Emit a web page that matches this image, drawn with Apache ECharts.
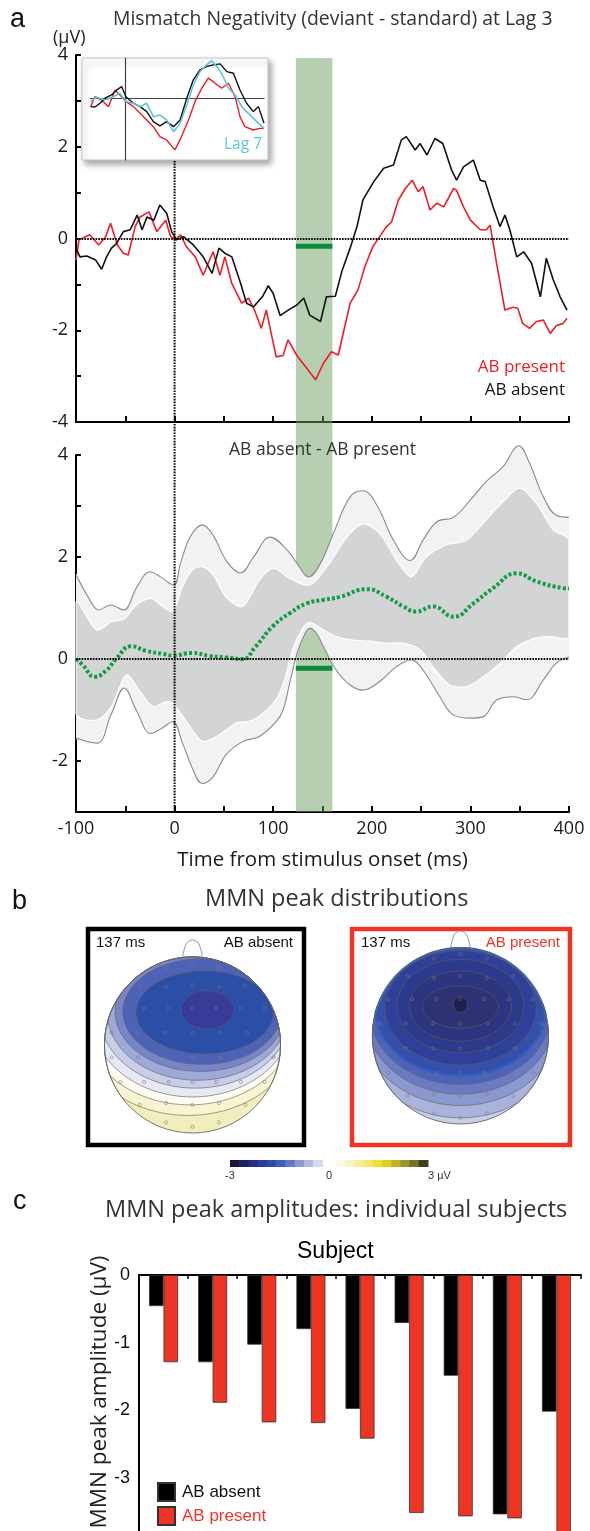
<!DOCTYPE html>
<html><head><meta charset="utf-8">
<script src="https://cdn.jsdelivr.net/npm/echarts@6/dist/echarts.min.js"></script>
<style>html,body{margin:0;padding:0;background:#fff}#c{width:590px;height:1531px}</style>
</head><body><div id="c"></div>
<script>
// ---------------- DATA ----------------
// Panel a (top): grand-average MMN waveforms, [ms, µV]
const absentWave = [[-100,-0.21],[-96,-0.40],[-89,-0.38],[-80,-0.47],[-74,-0.67],[-69,-0.40],[-64,-0.21],[-59,-0.11],[-52,0.15],[-45,0.19],[-38,0.51],[-33,0.19],[-28,0.47],[-21,0.40],[-15,0.73],[-8,0.55],[-3,0.15],[2,-0.03],[9,0.04],[19,-0.14],[29,-0.40],[38,-0.76],[45,-0.21],[51,-0.32],[58,-0.40],[67,-0.98],[73,-1.41],[80,-1.49],[89,-1.27],[95,-1.03],[100,-1.20],[107,-1.68],[116,-1.55],[124,-1.45],[131,-1.30],[137,-1.67],[148,-1.81],[154,-1.27],[163,-1.26],[170,-0.69],[178,-0.21],[185,0.26],[191,0.84],[202,1.24],[212,1.53],[222,1.60],[230,2.15],[235,2.22],[244,1.93],[249,2.07],[256,1.82],[264,2.18],[272,2.07],[281,1.49],[286,1.27],[293,1.56],[303,1.71],[310,1.27],[315,1.24],[323,0.69],[330,0.26],[335,0.51],[340,0.19],[347,-0.40],[354,-0.29],[362,-0.54],[371,-1.27],[377,-0.43],[384,-0.90],[391,-1.27],[398,-1.56]];
const presentWave = [[-100,-0.47],[-97,-0.03],[-86,0.08],[-77,-0.14],[-70,0.04],[-65,0.33],[-58,-0.14],[-52,-0.32],[-47,-0.36],[-40,0.26],[-35,0.47],[-26,0.58],[-18,0.15],[-9,0.40],[-4,0.04],[1,-0.03],[6,0.08],[12,-0.18],[21,-0.40],[29,-0.80],[39,-0.29],[46,-0.80],[51,-0.40],[58,-0.98],[68,-1.41],[75,-1.30],[81,-1.56],[88,-1.96],[93,-1.56],[103,-2.58],[110,-2.55],[115,-2.21],[124,-2.55],[134,-2.83],[143,-3.08],[151,-2.72],[159,-2.47],[166,-2.54],[171,-2.07],[178,-1.41],[186,-1.12],[193,-0.61],[201,-0.18],[208,0.04],[215,0.26],[220,0.36],[227,0.84],[234,1.09],[241,1.27],[247,1.02],[252,1.13],[259,0.62],[266,0.77],[273,0.69],[283,1.09],[286,1.05],[293,0.69],[300,0.40],[310,0.19],[316,0.19],[320,0.29],[326,-0.47],[335,-1.56],[343,-1.50],[348,-1.52],[353,-1.85],[360,-1.96],[367,-1.81],[374,-1.78],[381,-2.07],[387,-1.90],[394,-1.85],[398,-1.74]];
// Inset (Lag 7)
const insetAbsent = [[-98,-0.57],[-86,-0.6],[-71,-0.33],[-57,0.03],[-38,0.26],[-23,0.62],[-9,0.86],[3,0.14],[25,-0.33],[44,-0.57],[63,-0.93],[82,-1.64],[101,-1.95],[120,-1.64],[140,-2.0],[159,-1.52],[178,0.03],[197,1.34],[216,2.05],[235,2.29],[254,2.41],[274,2.48],[293,1.93],[312,1.81],[331,0.62],[350,-0.33],[369,-0.93],[384,-0.57],[400,-1.76]];
const insetPresent = [[-98,-0.57],[-86,0.14],[-67,-0.1],[-47,-0.57],[-28,0.62],[-14,0.26],[3,-0.2],[25,-0.57],[44,-1.05],[63,-1.52],[82,-2.0],[101,-2.71],[120,-2.95],[144,-3.66],[163,-2.71],[183,-1.52],[202,-0.2],[221,0.74],[240,1.46],[254,1.21],[278,0.74],[298,1.1],[317,0.14],[331,-1.29],[345,-2.0],[369,-2.24],[388,-2.12],[400,-2.12]];
const insetLag7 = [[-98,-0.2],[-81,0.1],[-57,-0.1],[-33,0.14],[-14,0.38],[3,-0.2],[25,-0.33],[44,-0.57],[63,-0.33],[82,-1.29],[101,-1.17],[120,-1.52],[140,-2.36],[159,-1.76],[178,-0.45],[197,0.98],[216,1.93],[235,2.41],[250,2.71],[264,2.29],[278,1.81],[298,0.74],[317,0.26],[336,-0.57],[355,-1.05],[374,-1.52],[400,-2.12]];
// Panel a (bottom): difference wave with confidence bands
const diffMean = [[-100,0.0],[-93,-0.12],[-81,-0.35],[-69,-0.22],[-59,0.01],[-44,0.25],[-29,0.16],[-12,0.1],[-2,0.07],[18,0.12],[35,0.06],[52,0.03],[69,0.0],[82,0.24],[99,0.63],[117,0.9],[134,1.09],[151,1.16],[168,1.22],[195,1.37],[215,1.22],[232,1.03],[245,0.93],[262,1.03],[283,0.83],[303,1.09],[323,1.39],[347,1.68],[367,1.52],[394,1.39],[400,1.38]];
const innerUpper = [[-100,1.12],[-79,0.57],[-64,0.73],[-51,0.79],[-39,1.06],[-24,1.19],[-14,1.06],[-2,0.93],[8,1.42],[18,1.75],[28,1.81],[39,1.65],[52,1.22],[69,1.03],[86,1.55],[100,1.78],[117,1.58],[137,1.45],[157,1.88],[175,2.4],[191,2.65],[208,2.46],[225,1.94],[240,1.61],[255,2.0],[276,2.24],[296,2.33],[316,2.73],[333,3.08],[350,3.35],[367,3.05],[384,2.53],[400,2.33]];
const innerLower = [[-100,-1.07],[-79,-1.2],[-64,-0.93],[-49,-0.31],[-36,-0.61],[-22,-0.93],[-9,-0.84],[-2,-0.87],[11,-1.2],[24,-1.55],[31,-1.62],[45,-1.49],[62,-1.26],[79,-1.2],[100,-0.87],[110,-0.5],[120,0.2],[130,0.6],[137,0.72],[151,0.57],[164,0.44],[181,0.37],[198,0.35],[215,0.31],[232,0.31],[249,0.18],[262,-0.15],[279,-0.51],[296,-0.54],[313,-0.35],[330,-0.08],[347,0.24],[364,0.4],[381,0.44],[400,0.44]];
const outerUpper = [[-100,1.65],[-86,1.16],[-77,0.96],[-65,1.06],[-52,0.96],[-38,1.42],[-25,1.71],[-15,1.62],[-1,1.45],[6,1.88],[16,2.4],[28,2.63],[39,2.43],[53,1.91],[67,1.69],[80,2.0],[97,2.39],[114,2.14],[124,1.88],[136,1.61],[148,1.88],[161,2.46],[178,3.18],[191,3.3],[205,3.02],[222,2.33],[239,1.93],[252,2.33],[266,2.69],[283,2.78],[300,3.12],[316,3.48],[333,3.77],[349,4.18],[360,3.84],[374,3.18],[387,2.82],[400,2.78]];
const outerLower = [[-100,-1.55],[-79,-1.65],[-64,-1.07],[-51,-0.57],[-39,-1.0],[-24,-1.46],[-14,-1.37],[-2,-1.23],[8,-1.65],[18,-2.14],[28,-2.44],[39,-2.31],[52,-1.88],[69,-1.62],[86,-1.52],[103,-1.23],[110,-1.0],[117,-0.45],[124,0.1],[130,0.4],[137,0.6],[144,0.5],[151,0.24],[164,-0.22],[178,-0.51],[191,-0.61],[208,-0.44],[225,-0.15],[240,-0.02],[252,-0.22],[269,-0.74],[283,-1.1],[300,-1.16],[313,-1.13],[327,-0.8],[344,-0.74],[357,-0.8],[374,-0.41],[387,-0.08],[400,0.04]];
const mmnWindow = [123, 160];      // ms, shaded analysis window
const sigMarkTop = -0.17;          // µV level of significance bar (top)
const sigMarkBottom = -0.18;       // µV level of significance bar (bottom)

// Panel b: scalp maps at 137 ms — contour levels (µV) and contour ellipses in head units [cx, cy, rx, ry]
const absentLevels = [0.6, 0.4, 0.2, -0.2, -0.6, -1.0, -1.4, -1.8, -2.2, -2.6];
const absentContours = [[0,0,1,1],[-0.05,0.28,1.3,1.08],[-0.03,0.32,1.22,1.0],[0,0.34,1.15,0.93],[0.03,0.36,1.09,0.85],[0.06,0.37,1.03,0.77],[0.09,0.38,0.97,0.68],[0.11,0.38,0.9,0.6],[0.14,0.37,0.78,0.47],[0.17,0.4,0.3,0.22]];
const presentLevels = [-0.6, -0.9, -1.2, -1.5, -1.8, -2.1, -2.3, -2.5, -2.7, -2.9, -3.1];
const presentContours = [[0,0,1,1],[0,0.12,1.2,1.05],[0,0.18,1.14,0.97],[0,0.23,1.08,0.89],[0,0.27,1.03,0.82],[0,0.3,0.97,0.75],[0,0.32,0.86,0.65],[0,0.34,0.72,0.53],[0,0.34,0.58,0.4],[0,0.33,0.43,0.24],[0,0.36,0.08,0.09]];
const electrodes = [[-0.3,0.88],[0,0.93],[0.3,0.88],[-0.6,0.68],[-0.3,0.66],[0,0.68],[0.3,0.66],[0.6,0.68],[-0.82,0.42],[-0.55,0.42],[-0.27,0.42],[0,0.42],[0.27,0.42],[0.55,0.42],[0.82,0.42],[-0.92,0.14],[-0.62,0.14],[-0.31,0.14],[0,0.14],[0.31,0.14],[0.62,0.14],[0.92,0.14],[-0.92,-0.14],[-0.62,-0.14],[-0.31,-0.14],[0,-0.14],[0.31,-0.14],[0.62,-0.14],[0.92,-0.14],[-0.82,-0.42],[-0.55,-0.42],[-0.27,-0.42],[0,-0.42],[0.27,-0.42],[0.55,-0.42],[0.82,-0.42],[-0.6,-0.68],[-0.3,-0.66],[0,-0.68],[0.3,-0.66],[0.6,-0.68],[-0.3,-0.88],[0,-0.93],[0.3,-0.88]];
const noseOutline = [[-0.11,0.99],[-0.09,1.1],[-0.04,1.18],[0.04,1.18],[0.09,1.1],[0.11,0.99]];
// colour scale steps (µV)
const cbStarts = [-3,-2.72,-2.44,-2.16,-1.88,-1.6,-1.32,-1.04,-0.76,-0.48, 0.2,0.48,0.76,1.04,1.32,1.6,1.88,2.16,2.44,2.72];
const cbEnds   = [-2.72,-2.44,-2.16,-1.88,-1.6,-1.32,-1.04,-0.76,-0.48,-0.2, 0.48,0.76,1.04,1.32,1.6,1.88,2.16,2.44,2.72,3];
const cbTicks = [-3, 0, 3];

// Panel c: individual subject MMN peak amplitudes (µV)
const subjects = ['1','2','3','4','5','6','7','8','9'];
const absentAmp  = [-0.46,-1.29,-1.03,-0.80,-1.98,-0.71,-1.49,-3.54,-2.02];
const presentAmp = [-1.29,-1.89,-2.18,-2.19,-2.42,-3.52,-3.57,-3.60,-3.95];

// ---------------- STYLE ----------------
const FA = '"Open Sans","Noto Sans",sans-serif';
const FH = '"Liberation Sans",Arial,sans-serif';
const cbColors = ['#15153f','#1e2060','#252f80','#2a3d98','#2d4ea8','#3f60b4','#6577c0','#8d99cf','#b2bade','#d5d9ee',
                  '#fbfae8','#f7f4c4','#f4ee9c','#f2e870','#efe036','#e0d21c','#bfb523','#9a942a','#74722b','#3f3f1f'];
const topoPalette = [[-3.1,'#1f1e4e'],[-2.9,'#2e3274'],[-2.7,'#2d357f'],[-2.6,'#383c98'],[-2.5,'#2d398b'],[-2.3,'#2f4099'],[-2.2,'#2b4ea6'],[-2.1,'#3550aa'],[-1.8,'#4f63b6'],[-1.5,'#6b7bc3'],[-1.4,'#7785c7'],[-1.2,'#8b97cf'],[-1.0,'#9fa9d8'],[-0.9,'#aab3dc'],[-0.6,'#c8cde8'],[-0.2,'#e6e8f4'],[0.2,'#fdfcf1'],[0.4,'#f7f4d2'],[0.6,'#f1edbc']];
function topoColor(v){let best=topoPalette[0];for(const p of topoPalette){if(Math.abs(p[0]-v)<Math.abs(best[0]-v))best=p;}return best[1];}

const RED = '#ee1c24', BARRED = '#ee3524', GREEN = '#0b8b3c';
const dotted = {type:[1.6,1.2], width:2, color:'#000'};

function hidden(gi, min, max){ return {gridIndex:gi, type:'value', min, max, show:false, splitLine:{show:false}}; }

function bandPoly(upper, lower, fill, stroke, lw, z){
  return {type:'custom', name:'band', xAxisIndex:1, yAxisIndex:1, z, silent:true, clip:false,
    data:[[0,0]],
    renderItem(params, api){
      const pts = upper.map(p=>api.coord(p)).concat(lower.slice().reverse().map(p=>api.coord(p)));
      const l = api.coord([-100,0])[0], r = api.coord([400,0])[0];
      return {type:'polygon', shape:{points:pts, smooth:0.3, smoothConstraint:[[l,-1e5],[r,1e5]]}, style:{fill, stroke, lineWidth:lw}};
    }};
}
function topoSeries(gi, levels, shapes, special){
  return {type:'custom', name:'topo', xAxisIndex:gi, yAxisIndex:gi, z:3, silent:true,
    data: levels.map(v=>[0,0,v]),
    renderItem(params, api){
      const i = params.dataIndex, s = shapes[i];
      const pts=[];
      for(let k=0;k<120;k++){
        const t=k/120*2*Math.PI; let x=s[0]+s[2]*Math.cos(t), y=s[1]+s[3]*Math.sin(t);
        const r=Math.hypot(x,y); if(r>1){x/=r;y/=r;}
        pts.push(api.coord([x,y]));
      }
      const sp = special && special[i];
      return {type:'polygon', shape:{points:pts}, style:{fill:topoColor(levels[i]), stroke: sp? sp[0] : '#5e5e5e', lineWidth: i===0?0:(sp? sp[1]:0.6)}};
    }};
}
function headOutline(gi){
  return {type:'custom', name:'head', xAxisIndex:gi, yAxisIndex:gi, z:4, silent:true, data:[[0,0]],
    renderItem(params, api){
      const c = api.coord([0,0]), r = api.size([1,1])[0];
      return {type:'circle', shape:{cx:c[0], cy:c[1], r}, style:{fill:null, stroke:'#666', lineWidth:0.9}};
    }};
}
function noseSeries(gi){
  return {type:'custom', name:'nose', xAxisIndex:gi, yAxisIndex:gi, z:2, silent:true, data:[[0,0]],
    renderItem(params, api){
      return {type:'polyline', shape:{points:noseOutline.map(p=>api.coord(p)), smooth:0.5}, style:{fill:'#fff', stroke:'#888', lineWidth:0.9}};
    }};
}
function electrodeSeries(gi){
  return {type:'scatter', name:'elec', xAxisIndex:gi, yAxisIndex:gi, z:5, silent:true, symbol:'circle', symbolSize:3.2,
    itemStyle:{color:'rgba(0,0,0,0)', borderColor:'#7a7a7a', borderWidth:0.7}, data:electrodes};
}

const T = (text, pos, style) => Object.assign({text, padding:0, textStyle:Object.assign({fontWeight:'normal'}, style)}, pos);

const option = {
  animation:false,
  backgroundColor:'#fff',
  title:[
    T('a', {left:10, top:6}, {fontFamily:FH, fontSize:27, color:'#111'}),
    T('Mismatch Negativity (deviant - standard) at Lag 3', {left:113, top:10}, {fontFamily:FA, fontSize:19.4, color:'#333'}),
    T('(µV)', {left:53, top:29}, {fontFamily:FA, fontSize:18, color:'#222'}),
    T('AB present', {right:25, top:359}, {fontFamily:FA, fontSize:17, color:RED}),
    T('AB absent', {right:25, top:382}, {fontFamily:FA, fontSize:17, color:'#111'}),
    Object.assign(T('Lag 7', {right:328, top:137}, {fontFamily:FA, fontSize:15.5, color:'#5ec5d8'}), {z:20}),
    T('AB absent - AB present', {left:229, top:441}, {fontFamily:FA, fontSize:17.5, color:'#333'}),
    T('b', {left:12, top:888}, {fontFamily:FH, fontSize:27, color:'#111'}),
    T('MMN peak distributions', {left:205, top:887}, {fontFamily:FA, fontSize:23.5, color:'#333'}),
    Object.assign(T('137 ms', {left:96, top:935}, {fontFamily:FH, fontSize:15, color:'#111'}), {z:20}),
    Object.assign(T('AB absent', {right:297, top:935}, {fontFamily:FH, fontSize:15, color:'#111'}), {z:20}),
    Object.assign(T('137 ms', {left:361, top:935}, {fontFamily:FH, fontSize:15, color:'#111'}), {z:20}),
    Object.assign(T('AB present', {right:30, top:935}, {fontFamily:FH, fontSize:15, color:BARRED}), {z:20}),
    T('c', {left:13, top:1188}, {fontFamily:FH, fontSize:27, color:'#111'}),
    T('MMN peak amplitudes: individual subjects', {left:105, top:1198}, {fontFamily:FA, fontSize:23.5, color:'#333'}),
    T('Subject', {left:297, top:1240}, {fontFamily:FH, fontSize:23, color:'#000'})
  ],
  graphic:[{type:'text', x:100, y:1392, rotation:Math.PI/2, silent:true,
    style:{text:'MMN peak amplitude (µV)', font:'22.5px "Open Sans"', fill:'#222', align:'center', verticalAlign:'middle'}}],
  legend:{left:152, top:1477, orient:'vertical', itemWidth:17, itemHeight:18, itemGap:4, icon:'rect', selectedMode:false,
    textStyle:{fontFamily:FH, fontSize:17, padding:[0,0,0,2]},
    data:[{name:'AB absent', textStyle:{color:'#111'}},{name:'AB present', textStyle:{color:BARRED}}]},
  grid:[
    {left:76, top:55, width:493, height:367},                       // 0 top waveform
    {left:76, top:455, width:493, height:357},                      // 1 difference
    {left:76, top:58, width:493, height:754},                       // 2 overlay
    {left:82, top:58, width:186, height:102, show:true, z:10, backgroundColor:'#fff', borderColor:'#c4c4c4', borderWidth:1,
      shadowBlur:6, shadowColor:'rgba(0,0,0,0.35)', shadowOffsetX:3, shadowOffsetY:4}, // 3 inset box
    {left:90, top:58, width:174, height:102, z:11},                 // 4 inset data
    {left:88, top:929, width:216, height:216, show:true, z:1, backgroundColor:'#fff', borderColor:'#000', borderWidth:4.5}, // 5
    {left:352, top:929, width:218, height:216, show:true, z:1, backgroundColor:'#fff', borderColor:BARRED, borderWidth:4.5}, // 6
    {left:230, top:1160, width:198, height:7},                      // 7 colour bar
    {left:139, top:1275, width:442, height:270.4, outerBoundsMode:'none'}   // 8 bars (runs off the page bottom)
  ],
  xAxis:[
    {gridIndex:0, type:'value', min:-100, max:400, interval:50,
      axisLine:{show:true, onZero:false, lineStyle:{color:'#000', width:2}},
      axisTick:{show:true, inside:true, length:6, lineStyle:{color:'#000', width:2}},
      axisLabel:{show:false}, splitLine:{show:false}},
    {gridIndex:1, type:'value', min:-100, max:400, interval:50,
      axisLine:{show:true, onZero:false, lineStyle:{color:'#000', width:2}},
      axisTick:{show:true, inside:true, length:6, lineStyle:{color:'#000', width:2}},
      axisLabel:{show:true, margin:8, fontFamily:FA, fontSize:18, color:'#1a1a1a', formatter:v=> (v%100===0? String(v):'')},
      splitLine:{show:false},
      name:'Time from stimulus onset (ms)', nameLocation:'middle', nameGap:38,
      nameTextStyle:{fontFamily:FA, fontSize:20.5, color:'#1a1a1a'}},
    hidden(2,-100,400),
    hidden(3,0,1),
    {gridIndex:4, type:'value', min:-100, max:400, z:12,
      axisLine:{show:true, onZero:true, lineStyle:{color:'#444', width:1.2}},
      axisTick:{show:false}, axisLabel:{show:false}, splitLine:{show:false}},
    hidden(5,-1.1875,1.267),
    hidden(6,-1.232,1.245),
    {gridIndex:7, type:'value', min:-3, max:3, interval:3,
      axisLine:{show:false}, axisTick:{show:false}, splitLine:{show:false},
      axisLabel:{show:true, margin:3, fontFamily:FH, fontSize:11, color:'#333', alignMaxLabel:'left',
        formatter:v=> (v===cbTicks[2]? v+' µV' : String(v))}},
    {gridIndex:8, type:'category', data:subjects, position:'top',
      axisLine:{show:true, onZero:false, lineStyle:{color:'#000', width:2}},
      axisTick:{show:true, inside:true, length:4, lineStyle:{color:'#000', width:1.5}},
      axisLabel:{show:false}}
  ],
  yAxis:[
    {gridIndex:0, type:'value', min:-4, max:4, interval:1,
      axisLine:{show:true, onZero:false, lineStyle:{color:'#000', width:2}},
      axisTick:{show:true, inside:true, length:5, lineStyle:{color:'#000', width:2}},
      axisLabel:{show:true, margin:8, fontFamily:FA, fontSize:18, color:'#1a1a1a', formatter:v=> (v%2===0? String(v):'')},
      splitLine:{show:false}},
    {gridIndex:1, type:'value', min:-3, max:4, interval:1,
      axisLine:{show:true, onZero:false, lineStyle:{color:'#000', width:2}},
      axisTick:{show:true, inside:true, length:5, lineStyle:{color:'#000', width:2}},
      axisLabel:{show:true, margin:8, fontFamily:FA, fontSize:18, color:'#1a1a1a', formatter:v=> (v%2===0? String(v):'')},
      splitLine:{show:false}},
    hidden(2,0,1),
    hidden(3,0,1),
    {gridIndex:4, type:'value', min:-4.38, max:2.9, z:12,
      axisLine:{show:true, onZero:true, lineStyle:{color:'#444', width:1.2}},
      axisTick:{show:false}, axisLabel:{show:false}, splitLine:{show:false}},
    hidden(5,-1.136,1.318),
    hidden(6,-1.239,1.216),
    hidden(7,0,1),
    {gridIndex:8, type:'value', min:-4, max:0, interval:1,
      axisLine:{show:true, onZero:false, lineStyle:{color:'#000', width:2}},
      axisTick:{show:false}, splitLine:{show:false},
      axisLabel:{show:true, margin:9, fontFamily:FH, fontSize:18, color:'#111'}}
  ],
  series:[
    // ---- top waveform ----
    {type:'line', name:'present wave', xAxisIndex:0, yAxisIndex:0, data:presentWave, symbol:'none', z:2,
      lineStyle:{color:RED, width:1.6},
      markLine:{silent:true, symbol:'none', label:{show:false}, lineStyle:dotted, data:[{yAxis:0}]}},
    {type:'line', name:'absent wave', xAxisIndex:0, yAxisIndex:0, data:absentWave, symbol:'none', z:2,
      lineStyle:{color:'#111', width:1.6}},
    {type:'line', name:'sig top', xAxisIndex:0, yAxisIndex:0, data:mmnWindow.map(t=>[t,sigMarkTop]), symbol:'none', z:6,
      lineStyle:{color:GREEN, width:5}},
    // ---- difference panel ----
    bandPoly(outerUpper, outerLower, '#f2f2f2', null, 0, 1),
    bandPoly(innerUpper, innerLower, '#d3d5d5', 'rgba(255,255,255,0.95)', 1.2, 1.2),
    {type:'line', name:'outer up', xAxisIndex:1, yAxisIndex:1, data:outerUpper, symbol:'none', smooth:0.4, z:2, clip:false,
      lineStyle:{color:'#8a8a8a', width:1.1}},
    {type:'line', name:'outer low', xAxisIndex:1, yAxisIndex:1, data:outerLower, symbol:'none', smooth:0.4, z:2,
      lineStyle:{color:'#8a8a8a', width:1.1},
      markLine:{silent:true, symbol:'none', label:{show:false}, lineStyle:dotted, data:[{yAxis:0}]}},
    {type:'line', name:'mean diff', xAxisIndex:1, yAxisIndex:1, data:diffMean, symbol:'none', smooth:0.5, z:3,
      lineStyle:{color:'#169a48', width:4, type:[3,2.2]}},
    {type:'line', name:'sig bottom', xAxisIndex:1, yAxisIndex:1, data:mmnWindow.map(t=>[t,sigMarkBottom]), symbol:'none', z:6,
      lineStyle:{color:GREEN, width:5}},
    // ---- overlay: onset line + analysis window ----
    {type:'line', name:'onset', xAxisIndex:2, yAxisIndex:2, data:[[0,0],[0,1]], symbol:'none', z:3,
      lineStyle:dotted},
    {type:'line', name:'window', xAxisIndex:2, yAxisIndex:2, data:[], z:4,
      markArea:{silent:true, itemStyle:{color:'rgba(110,160,100,0.5)'}, data:[[{xAxis:mmnWindow[0]},{xAxis:mmnWindow[1]}]]}},
    // ---- inset ----
    {type:'line', name:'inset present', xAxisIndex:4, yAxisIndex:4, data:insetPresent, symbol:'none', z:13, lineStyle:{color:RED, width:1.4}},
    {type:'line', name:'inset absent', xAxisIndex:4, yAxisIndex:4, data:insetAbsent, symbol:'none', z:13, lineStyle:{color:'#111', width:1.4}},
    {type:'line', name:'inset lag7', xAxisIndex:4, yAxisIndex:4, data:insetLag7, symbol:'none', z:14, lineStyle:{color:'#5ec5d8', width:1.6}},
    // ---- scalp maps ----
    noseSeries(5), topoSeries(5, absentLevels, absentContours), headOutline(5), electrodeSeries(5),
    noseSeries(6), topoSeries(6, presentLevels, presentContours, {5:['#2f5fc0',2.2]}), headOutline(6), electrodeSeries(6),
    // ---- colour bar ----
    {type:'custom', name:'colorbar', xAxisIndex:7, yAxisIndex:7, silent:true, data:cbStarts.map((s,i)=>[s,cbEnds[i]]),
      renderItem(params, api){
        const a = api.coord([api.value(0),1]), b = api.coord([api.value(1),0]);
        return {type:'rect', shape:{x:a[0], y:a[1], width:b[0]-a[0]+0.5, height:b[1]-a[1]}, style:{fill:cbColors[params.dataIndex]}};
      }},
    // ---- bars ----
    {type:'bar', name:'AB absent', xAxisIndex:8, yAxisIndex:8, data:absentAmp, barWidth:14.5, barGap:'0%',
      itemStyle:{color:'#000', borderColor:'#333', borderWidth:0.8}},
    {type:'bar', name:'AB present', xAxisIndex:8, yAxisIndex:8, data:presentAmp, barWidth:14.5, barGap:'0%',
      itemStyle:{color:BARRED, borderColor:'#333', borderWidth:0.8}}
  ]
};
const chart = echarts.init(document.getElementById('c'), null, {renderer:'canvas', width:590, height:1531});
chart.setOption(option);
</script>
</body></html>
